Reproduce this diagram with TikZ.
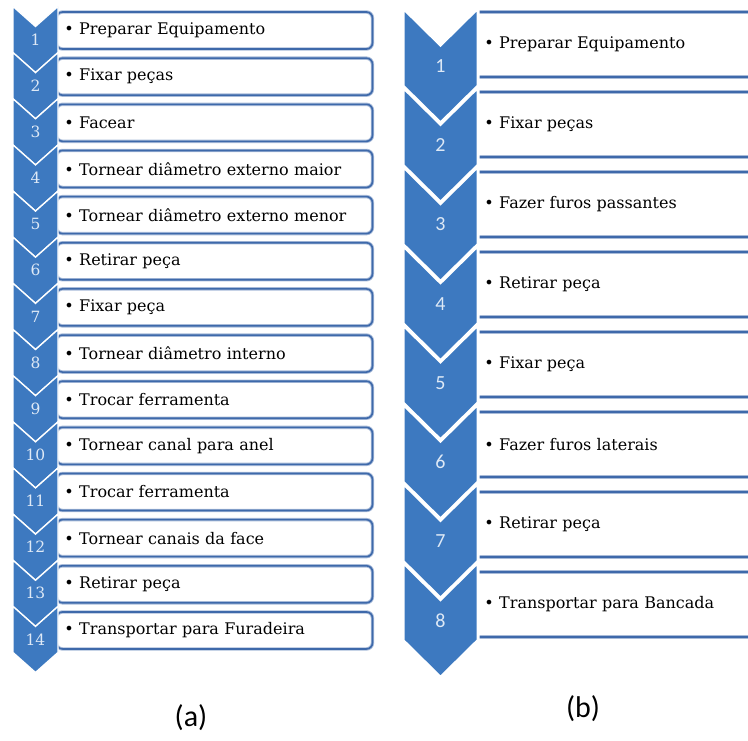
\documentclass[tikz,border=0pt]{standalone}
\usepackage{fontspec}
\setmainfont{DejaVu Serif}
\newfontfamily\capfont{Carlito}
\usetikzlibrary{positioning}
\definecolor{chevblue}{RGB}{61,121,192}
\definecolor{lineblue}{RGB}{62,105,170}
\definecolor{numwhite}{RGB}{222,233,246}

\begin{document}
\begin{tikzpicture}[x=1pt,y=-1pt]
	\tikzstyle{stepbox}=[rectangle, draw=lineblue!45, double=lineblue, double distance=1.6pt, line width=0.9pt, rounded corners=6pt, fill=white, text width=300pt, inner xsep=8pt, anchor=west, align=left, font=\fontsize{16}{18}\selectfont]
	\tikzstyle{chev}=[fill=chevblue, draw=white, line join=miter]
	\tikzstyle{stepnum}=[text=numwhite, inner sep=0pt]
	\useasboundingbox (0,0) rectangle (748,740);
	% (a) torno
	\foreach \n/\txt in {1/Preparar Equipamento, 2/Fixar peças, 3/Facear,
			4/Tornear diâmetro externo maior, 5/Tornear diâmetro externo menor,
			6/Retirar peça, 7/Fixar peça, 8/Tornear diâmetro interno,
			9/Trocar ferramenta, 10/Tornear canal para anel, 11/Trocar ferramenta,
			12/Tornear canais da face, 13/Retirar peça, 14/Transportar para Furadeira}
		\node[stepbox, minimum height=37pt] (a\n) at (56,{30.5+(\n-1)*46.15}) {\textbullet\ \txt};
	\foreach \n in {1,...,14}{
		\pgfmathsetmacro\t{6.5+(\n-1)*46.15}
		\draw[chev, line width=1.3pt] (13,\t) -- ++(22.5,20) -- ++(22.5,-20) -- ++(0,46) -- ++(-22.5,20) -- ++(-22.5,-20) -- cycle;
		\node[stepnum, font=\fontsize{15.5}{15.5}\selectfont] (na\n) at (35.5,\t+33) {\n};
	}
	% (b) furadeira
	\foreach \n/\txt in {1/Preparar Equipamento, 2/Fixar peças, 3/Fazer furos passantes,
			4/Retirar peça, 5/Fixar peça, 6/Fazer furos laterais, 7/Retirar peça,
			8/Transportar para Bancada}
		\node[stepbox, minimum height=65pt, rounded corners=0pt] (b\n) at (476,{44.5+(\n-1)*80}) {\textbullet\ \txt};
	\foreach \n in {1,...,8}{
		\pgfmathsetmacro\t{8+(\n-1)*79.2}
		\draw[chev, line width=3pt] (403,\t) -- ++(37.5,37) -- ++(37.5,-37) -- ++(0,78) -- ++(-37.5,37) -- ++(-37.5,-37) -- cycle;
		\node[stepnum, font=\capfont\fontsize{20}{20}\selectfont] (nb\n) at (440.5,\t+58) {\n};
	}
	\node[font=\capfont\fontsize{30}{30}\selectfont] (capa) at (191,718) {(a)};
	\node[font=\capfont\fontsize{30}{30}\selectfont] (capb) at (583,709) {(b)};
\end{tikzpicture}
\end{document}
